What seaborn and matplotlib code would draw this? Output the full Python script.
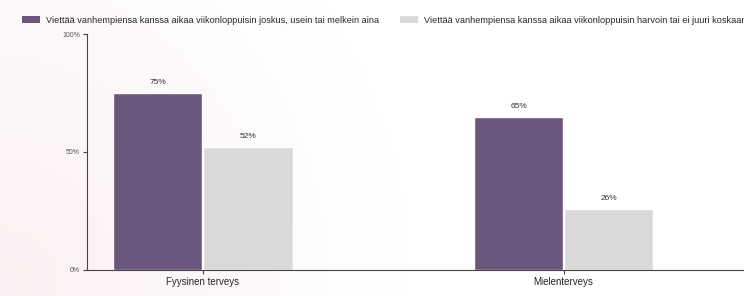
import matplotlib
matplotlib.use("Agg")
import matplotlib.pyplot as plt
import seaborn as sns
import pandas as pd
import numpy as np
from matplotlib.patches import Patch
from matplotlib.colors import LinearSegmentedColormap

categories = ["Fyysinen terveys", "Mielenterveys"]
series_names = [
    "Viettää vanhempiensa kanssa aikaa viikonloppuisin joskus, usein tai melkein aina",
    "Viettää vanhempiensa kanssa aikaa viikonloppuisin harvoin tai ei juuri koskaan",
]
often_values = [75, 65]
rarely_values = [52, 26]
colors = ["#6a557d", "#d9d9d9"]

df = pd.DataFrame({
    "category": categories * 2,
    "series": [series_names[0]] * 2 + [series_names[1]] * 2,
    "value": often_values + rarely_values,
})

sns.set_theme(style="white")
plt.rcParams['font.family'] = ['Liberation Sans', 'DejaVu Sans']

fig = plt.figure(figsize=(7.44, 2.96), dpi=100)
fig.patch.set_facecolor("white")

# faint pink background wash on the left side
bg = fig.add_axes([0, 0, 1, 1], zorder=-10)
gx = np.linspace(0, 1, 300)
gy = np.linspace(0, 1, 120)
X, Y = np.meshgrid(gx, gy)
intensity = np.clip(1 - np.sqrt((X / 0.55) ** 2 + ((1 - Y) / 1.6) ** 2), 0, 1)
cmap = LinearSegmentedColormap.from_list("wash", ["#ffffff", "#fbf0f1"])
bg.imshow(intensity, cmap=cmap, aspect="auto", extent=[0, 1, 0, 1], origin="upper")
bg.axis("off")

ax = fig.add_axes([0.117, 0.088, 0.883, 0.797])
ax.set_facecolor("none")

sns.barplot(data=df, x="category", y="value", hue="series", palette=colors,
            width=0.5, gap=0.01, ax=ax, legend=False, saturation=1)

for cont in ax.containers:
    ax.bar_label(cont, labels=[f"{v:.0f}%" for v in cont.datavalues],
                 padding=5, fontsize=6, color="#333333")

ax.set_ylim(0, 100)
ax.set_xlim(-0.321, 1.5)
ax.set_yticks([0, 50, 100])
ax.set_yticklabels(["0%", "50%", "100%"], fontsize=5, color="#555555")
ax.tick_params(axis="y", length=3, width=0.8, color="#444444", pad=2, left=True)
ax.tick_params(axis="x", length=3, width=0.8, color="#444444", pad=2, bottom=True, labelsize=7)
ax.set_xlabel("")
ax.set_ylabel("")
for s in ["top", "right"]:
    ax.spines[s].set_visible(False)
for s in ["left", "bottom"]:
    ax.spines[s].set_color("#444444")
    ax.spines[s].set_linewidth(0.8)

handles = [Patch(facecolor=c, edgecolor="none") for c in colors]
fig.legend(handles, series_names, loc="upper left", bbox_to_anchor=(0.018, 0.975),
           ncol=2, frameon=False, fontsize=6.6, handlelength=2.0, handleheight=0.8,
           columnspacing=2.2, handletextpad=0.7)

fig.savefig("out.png", dpi=100, facecolor=fig.get_facecolor())
